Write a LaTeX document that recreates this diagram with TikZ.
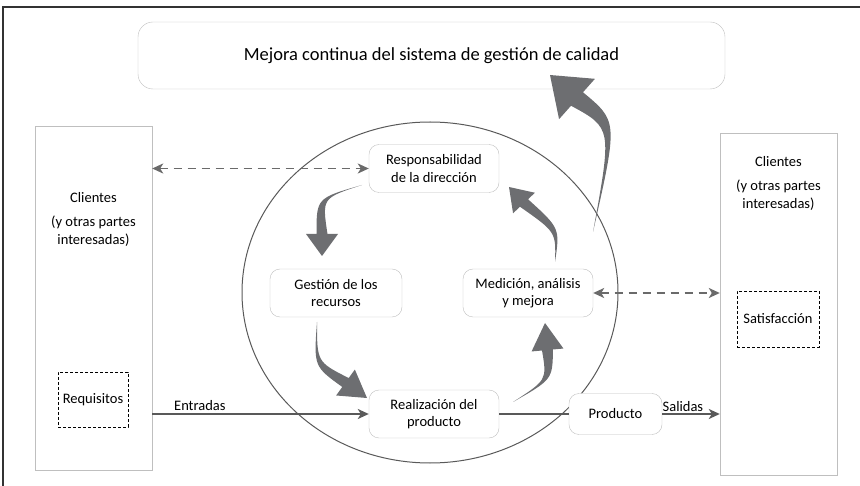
\documentclass[tikz,border=0pt]{standalone}
\usepackage{fontspec}
\setmainfont{Carlito}
\usetikzlibrary{arrows.meta,calc}

\definecolor{boxgray}{HTML}{BFBFBF}
\definecolor{linegray}{HTML}{595959}
\definecolor{dashgray}{HTML}{6A6A6A}
\definecolor{flowgray}{HTML}{6D6E71}
\definecolor{framegray}{HTML}{333333}

\newcommand{\labelfont}{\fontsize{14.5}{17.5}\selectfont}
\newcommand{\titlefont}{\fontsize{18.5}{22}\selectfont}

% 粗箭头: 尾, 控制点, 箭头底, 箭头尖, 半宽, 箭头半宽
\newcommand{\taper}[6]{%
  \coordinate (ta) at ($(#3)!#5!90:(#4)$);
  \coordinate (tb) at ($(#3)!#5!-90:(#4)$);
  \coordinate (ha) at ($(#3)!#6!90:(#4)$);
  \coordinate (hb) at ($(#3)!#6!-90:(#4)$);
  \fill[flowgray] (#1) .. controls (#2) .. (ta) -- (ha) -- (#4) -- (hb) -- (tb)
    .. controls ($(#2)+(tb)-(#3)$) .. (#1) -- cycle;
}

\tikzset{
  stage/.style={draw=boxgray, rounded corners=10pt, fill=white, align=center,
    minimum width=130pt, minimum height=48pt, inner sep=2pt, font=\labelfont},
  party/.style={draw=boxgray, minimum width=117pt, minimum height=344pt},
  need/.style={draw=black, line width=0.7pt, dash pattern=on 3pt off 2pt,
    inner sep=1pt, font=\labelfont},
  flow/.style={draw=linegray, line width=1.7pt, -{Stealth[length=11pt,width=10pt,inset=3pt]}},
  feedback/.style={flow, draw=dashgray, line width=1.8pt, dash pattern=on 8pt off 6pt,
    {Stealth[length=11pt,width=10pt,inset=3pt]}-{Stealth[length=11pt,width=10pt,inset=3pt]}},
  ring/.style={draw=linegray, line width=1pt}
}

\begin{document}
\begin{tikzpicture}[x=1pt, y=-1pt]
  \useasboundingbox (0,0) rectangle (860,486);
  % 外框
  \draw[framegray, line width=1.5pt] (3,7) rectangle (880,500);

  % 顶部
  \node[stage, minimum width=587pt, minimum height=67pt, rounded corners=15pt,
    font=\titlefont] (goal) at (431.5,55.5) {Mejora continua del sistema de gestión de calidad};

  % 过程环
  \draw[ring] (430,292.5) ellipse [x radius=188, y radius=170.5];

  % 两侧
  \node[party] (inparty) at (93.5,298) {};
  \node[party, minimum height=342pt] (outparty) at (778.5,304) {};
  \node[font=\labelfont] (inname) at (93.5,198) {Clientes};
  \node[font=\labelfont, align=center] (innote) at (93.5,231) {(y otras partes\\interesadas)};
  \node[font=\labelfont] (outname) at (778.5,162) {Clientes};
  \node[font=\labelfont, align=center] (outnote) at (778.5,195) {(y otras partes\\interesadas)};
  \node[need, minimum width=70pt, minimum height=55pt] (req) at (93,399.5) {Requisitos};
  \node[need, minimum width=82pt, minimum height=56pt] (sat) at (778,319) {Satisfacción};

  % 四个过程
  \node[stage] (resp) at (434,168.5) {Responsabilidad\\de la dirección};
  \node[stage, minimum width=132pt] (gest) at (336,293) {Gestión de los\\recursos};
  \node[stage] (med) at (528,293) {Medición, análisis\\y mejora};
  \node[stage] (real) at (434,414) {Realización del\\producto};
  \node[stage, minimum width=93pt, minimum height=41pt] (prod) at (615.5,414) {Producto};

  % 连线
  \draw[feedback] (inparty.east |- resp.west) -- (resp.west);
  \draw[feedback] (med.east) -- (outparty.west |- med.east);
  \draw[flow] (inparty.east |- real.west) -- node[pos=0.22, above, inner sep=3pt, font=\labelfont] {Entradas} (real.west);
  \draw[draw=linegray, line width=1.7pt] (real.east) -- (prod.west);
  \draw[flow] (prod.east) -- node[pos=0.36, above, inner sep=2pt, font=\labelfont] {Salidas} (outparty.west |- prod.east);

  % 循环箭头
  \taper{362,185}{322,198}{322,234}{322,256}{5.5pt}{16pt}
  \taper{317,322}{317,362}{345.5,382.5}{367,398}{5.5pt}{16pt}
  \taper{513,402}{547,380}{547.5,350}{545,323}{5.5pt}{16pt}
  \taper{555,262}{556,232}{524,203}{509,187}{5.5pt}{15pt}
  % 改进箭头
  \taper{593,232}{612,128}{577,99}{550,75}{9pt}{27pt}
\end{tikzpicture}
\end{document}
